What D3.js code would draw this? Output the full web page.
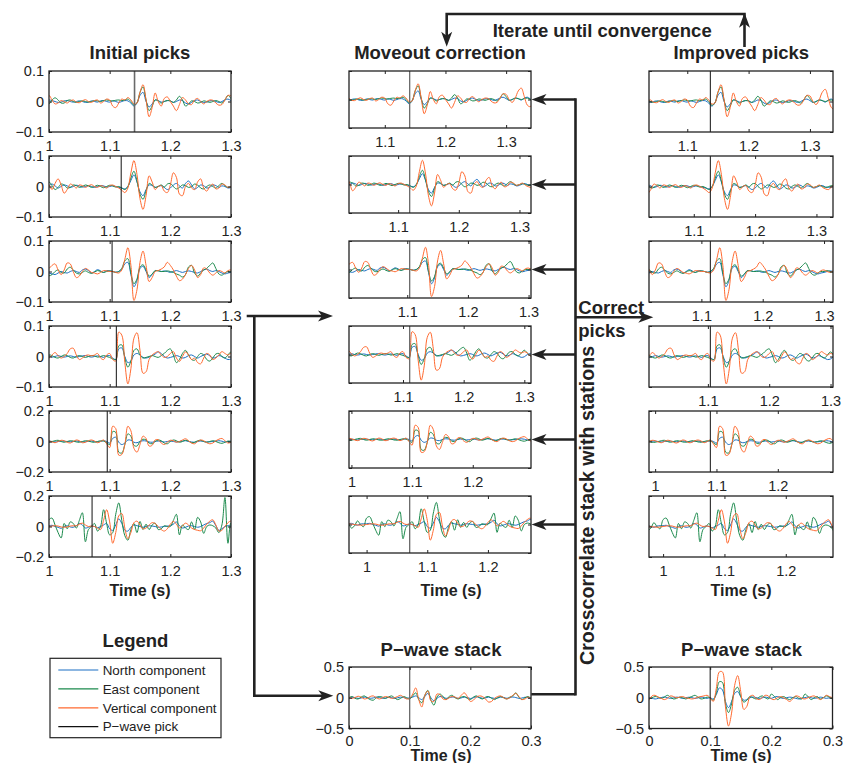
<!DOCTYPE html>
<html><head><meta charset="utf-8">
<script src="https://cdn.jsdelivr.net/npm/d3@7"></script>
<style>body{margin:0;background:#fff}svg{display:block}</style>
</head><body><svg id="chart" width="843" height="763"></svg>
<script>
// ---------------- DATA (amplitudes in units of 0.001) ----------------
const traceStart = 0.96, traceStep = 0.005;   // station traces sampled from 0.96 s
const stackStart = 0.0, stackStep = 0.005;    // stacks sampled from 0 s
const initialPicks  = [1.141, 1.119, 1.104, 1.111, 1.096, 1.071];
const improvedPicks = [1.1376, 1.127, 1.1146, 1.104, 1.090, 1.077];
const ampLimits = [0.1, 0.1, 0.1, 0.1, 0.2, 0.2];
const timeTicks = [1, 1.1, 1.2, 1.3];
const stackTicks = [0, 0.1, 0.2, 0.3];
const stackLimit = 0.5;
const stackPick = 0.1;
const legendLabels = ["North component", "East component", "Vertical component", "P\u2212wave pick"];

const p1N = [0,2,3,0,-2,0,3,2, 5,3,0,-3,-2,2,3,0,-2,0, 2,0,-3,-2,2,0,-2,2,3,0, -2,2,0,-3,0,3,2,-5,-15,-5, 20,30,0,-18,-8,5,3,-2,0,3, 2,-3,0,5,3,-5,-8,-3,3,5, 0,-3,-2,2,3,0,-3,0,5,8, 3,-3,0,5,3,-2,5,8,2,0, 0];
const p1E = [0,-3,-5,0,5,3,-2,-5, -8,5,12,5,-5,-5,3,5,0,-3, 0,2,0,-2,0,3,2,0,3,5, 3,2,4,5,3,5,8,0,-12,-5, 30,48,5,-30,-15,5,2,-5,0,3, 2,-3,5,17,5,-15,-8,2,0,-5, -3,2,0,-3,0,3,0,-5,5,20, 10,-3,0,5,3,0,3,5,0,-3, 0];
const p1Z = [0,5,10,8,0,-5,5,15, 20,5,-8,-5,3,0,-5,2,5,-2, -4,2,6,0,-3,3,5,-5,0,8, 5,-15,-20,-5,8,5,13,5,-8,-5, 30,55,5,-50,-20,28,0,-15,10,15, 0,-15,-30,-10,13,5,-8,-10,5,10, 0,-8,0,5,4,-5,-12,-10,5,20, 18,0,-10,5,30,40,10,-20,-25,-5, 0];

const p2N = [0,2,-2,0,3,0,-3,0, 3,8,2,-5,0,5,2,-3,0,4, 2,-2,0,3,0,-3,0,3,2,-2, 0,2,0,-3,-5,-8,0,20,38,15, -18,-30,-10,5,3,-3,0,3,-3,-10, -5,5,10,2,-5,10,18,5,-8,-3, 5,3,-5,-3,5,3,-3,2,0,-5, -3,2,3,-2,-3,0,2,0,-2,0, 0];
const p2E = [0,3,0,-3,0,5,8,10, 15,3,-10,-3,8,5,-5,-3,5,3, -3,0,5,2,-3,0,4,0,-4,0, 4,2,-2,0,-5,-10,0,28,50,18, -25,-42,-15,10,5,-3,0,5,-2,8, 10,0,-8,-3,5,3,-3,0,8,5, -5,-8,0,5,0,-5,3,10,3,-3, 0,3,0,-3,0,3,2,-2,0,2, 0];
const p2Z = [0,3,5,0,-5,-3,5,10, 5,-10,10,25,5,-22,-10,8,3,-5, 5,3,-3,2,6,0,-3,3,0,-5, 3,5,0,-5,-12,-20,-5,45,85,40, -40,-75,-30,35,15,-10,0,3,-15,-20, 5,45,30,-25,-30,0,10,-5,-10,15, 25,-5,-15,0,8,-8,-5,8,5,-3, 0,5,-3,-8,-10,0,5,0,-3,0, 0];

const p3N = [0,2,0,-2,0,3,0,-3, -5,-8,-10,-5,0,-3,-5,0,3,0, -3,5,8,3,-5,0,6,2,-3,3, 2,0,-2,0,8,25,30,-10,-50,-30, 10,17,0,-20,-10,2,3,0,2,0, -3,0,3,0,-3,0,2,0,-3,-5, 0,5,8,3,0,3,0,-5,-8,-5, -3,0,2,0,-2,0,2,0,-2,0, 0];
const p3E = [0,-2,0,3,0,-3,-5,-10, -14,-10,0,5,-3,-5,8,14,5,-5, -8,-3,2,-3,-6,-2,3,0,-3,0, 2,0,-3,0,10,35,42,-5,-40,-25, 15,22,5,-15,-8,3,2,0,0,2, 0,-3,-8,-12,-18,-10,15,20,-5,-15, -5,5,10,20,28,10,-8,-12,-5,0, 0,3,0,-3,0,2,0,-2,0,0, 0];
const p3Z = [0,3,5,3,0,-3,0,5, 10,20,25,5,-10,5,28,25,0,-20, -15,0,10,5,-3,-5,-8,-3,3,2, 0,0,-3,-5,5,40,78,20,-95,-60, 30,67,20,-33,-20,0,3,8,15,30, 20,5,-15,-30,-25,-10,10,20,5,-20, -10,12,8,-5,-12,-5,3,0,-5,3, 5,0,-3,2,0,-2,0,2,0,0, 0];

const p4N = [0,2,0,-2,0,2,0,-2, 2,-2,0,3,0,-2,0,2,0,-2, 0,2,3,0,-2,0,2,0,-3,2, 3,-5,-10,25,28,0,-20,-15,5,10, 5,-3,-5,-2,3,8,15,10,0,-5, -3,0,3,0,-5,-3,3,5,0,-5, 0,5,8,2,-5,-3,3,0,-5,-10, -8,0,3,2,0,-2,0,2,0,0, 0];
const p4E = [0,3,0,-3,0,3,0,-3, 5,3,-3,-5,0,5,3,-3,-5,0, 3,0,-3,0,3,2,-2,0,3,0, -3,-8,-10,35,38,-5,-35,-15,20,25, 5,-5,-3,0,3,0,-3,3,10,20, 25,5,-20,-10,10,20,5,-10,-12,0, 10,5,-10,-15,-5,8,10,0,-5,5, 15,5,-5,0,3,0,-2,0,2,0, 0];
const p4Z = [0,3,0,-5,-3,3,5,0, -5,5,13,3,-5,0,10,25,27,5, -10,-5,3,5,2,5,10,-5,-10,5, 10,-10,-15,80,70,-20,-90,-40,60,78, 20,-55,-50,-10,5,12,16,5,-3,0, 10,16,-5,-16,0,15,5,-10,-5,-20, -24,-5,10,5,-10,-5,5,16,10,5, 10,5,-5,0,5,0,-3,0,2,0, 0];

const p5N = [0,2,3,0,-2,0,3,2, 3,0,-3,0,3,2,0,-2,0,3, 0,-3,-2,2,3,0,-3,0,5,0, -10,20,28,-5,-20,-10,10,8,-5,-8, 0,5,3,-3,-5,0,3,0,-3,0, 3,0,-3,0,3,5,0,-3,-5,0, 3,0,-3,-2,0,3,5,2,-3,0, 2,0,-2,0,2,0,-2,0,0,0, 0];
const p5E = [0,-3,-5,0,5,8,3,-5, -5,0,5,8,0,-5,0,5,3,-3, -5,0,5,3,-3,-5,0,5,3,-8, -20,65,60,-70,-75,-20,50,35,-25,-30, 0,15,10,-10,-15,0,10,5,-10,-15, 0,10,5,-5,0,8,3,-8,-5,5, 8,0,-5,0,5,0,-8,-12,-5,3, 0,3,0,-3,0,2,0,-2,0,0, 0];
const p5Z = [0,5,8,3,-5,-8,0,8, 5,-3,-8,0,8,5,-5,-10,0,10, 5,-8,-5,5,10,3,-8,0,10,-15, -40,100,85,-90,-85,-20,100,70,-45,-70, -20,35,20,-30,-25,10,12,-10,-20,-5, 8,5,-5,0,10,18,5,-10,-15,0, 10,5,-8,-15,-10,5,15,20,5,-10, -5,5,0,-5,0,3,0,-3,0,0, 0];

const p6N = [0,-5,5,8,0,-5,3,5, 5,8,0,-5,-12,0,5,-3,-5,5, 20,10,-10,-5,3,0,-8,0,10,20, -15,-25,10,50,20,-25,-30,-5,10,5, 0,-5,0,5,3,0,-5,-3,0,3, 5,15,30,5,-10,-5,3,5,0,-5, 0,10,20,25,35,5,-25,-15,0,5, 3,0,-3,0,2,0,0,0,0,0, 0];
const p6E = [0,0,5,-25,-10,25,0,-15, 45,55,10,-40,-75,20,-15,30,20,-10, 40,90,-100,-20,0,20,-30,0,110,20, -55,-40,80,155,40,-60,-90,-20,20,-40, 33,-20,15,-20,10,22,-20,-15,5,0, 0,40,80,-55,10,-10,-20,30,-20,60, 30,-45,0,10,5,-10,-40,10,190,-110, 25,0,-5,0,0,0,0,0,0,0, 0];
const p6Z = [0,3,5,3,0,-3,-5,-3, 0,3,5,3,-3,-5,-3,3,5,5, 15,22,10,0,3,0,-10,-20,40,110, 30,-110,-40,70,85,-10,-80,-40,25,35, 10,-15,-10,10,25,20,0,-20,-30,-15, 15,33,15,-10,5,22,10,-10,-20,-25, -28,-10,15,35,44,10,-30,-25,0,25, 35,10,0,0,0,0,0,0,0,0, 0];

const stackMidN = [0,8,3,-10,-5,10,5,-8,-3,12, 5,-10,-5,8,3,-12,0,10,5,-8, 0,10,30,0,-30,20,70,0,-50,-10, 20,10,-10,0,12,5,-10,-3,10,3, -12,0,15,5,-8,-3,10,0,-10,-5, 10,5,-8,0,12,3,-10,-5,8,0, -10];
const stackMidE = [0,20,-10,-20,10,30,0,-30,-40,0, 20,10,-10,10,30,0,-30,-10,20,0, -20,30,80,-30,-80,40,120,-40,-120,10, 60,20,-30,20,40,0,-20,10,20,-10, -30,10,30,0,-20,10,20,-10,-30,0, 20,0,-20,10,30,80,10,-30,0,20, -10];
const stackMidZ = [10,-10,5,25,10,-20,-10,20,30,0, -20,0,20,10,-10,0,20,40,10,-20, -10,60,160,-30,-150,40,110,-50,-60,60, 50,-20,-30,0,20,10,-10,40,80,20, -60,-40,10,30,20,-20,-70,-60,-10,20, 30,0,-20,0,40,70,20,-30,-20,10, -20];

const stackRightN = [0,-8,-20,-10,3,12,2,-10,-2,10, 3,-12,0,8,2,-10,-3,12,0,-10, 0,-20,50,160,130,-60,-160,-60,70,100, 20,-40,-30,0,12,3,-10,-2,10,0, -10,10,20,2,-12,0,10,3,-10,-20, -8,2,12,0,-10,-3,10,2,-10,0, 0];
const stackRightE = [-20,0,20,10,-10,10,40,10,-20,-10, 10,0,-20,0,20,40,10,-20,-10,10, 0,-40,80,260,250,-100,-240,-100,120,170, 20,-70,-40,20,0,-20,10,30,0,-20, 60,20,-30,0,20,-10,-30,0,20,-10, -20,60,20,-30,0,20,-20,0,30,10, -20];
const stackRightZ = [-40,30,40,10,-10,-30,-10,30,20,0, 10,20,0,-10,-20,-10,10,20,30,40, 0,-60,150,420,420,-150,-460,-250,200,360, 100,-190,-140,20,40,-10,-30,0,40,30, -20,-30,0,20,0,-30,-60,-20,30,20, -10,-20,0,20,30,0,-30,0,40,20, 0];

// ---------------- DRAWING ----------------
const FONT = '"Liberation Sans", Arial, Helvetica, sans-serif';
const COL = {N: "#1a6fc4", E: "#1b8a4c", Z: "#ff6a30", pick: "#111"};
const INK = "#222";
const fmt = d3.format("~g");
const svg = d3.select("#chart");

const stations = [
  [p1N, p1E, p1Z], [p2N, p2E, p2Z], [p3N, p3E, p3Z],
  [p4N, p4E, p4Z], [p5N, p5E, p5Z], [p6N, p6E, p6Z]
];
const compColors = [COL.N, COL.E, COL.Z];

let clipCount = 0;
function styleAxis(sel, size) {
  sel.select(".domain").remove();
  sel.selectAll("line").attr("stroke", INK).attr("stroke-width", 1);
  sel.selectAll("text").attr("fill", INK).style("font-family", FONT).style("font-size", size + "px");
}
function drawPanel(o) {
  const g = svg.append("g").attr("transform", `translate(${o.x},${o.y})`);
  const sx = d3.scaleLinear().domain(o.domain).range([0, o.w]);
  const sy = d3.scaleLinear().domain([-o.yMax, o.yMax]).range([o.h, 0]);
  const cid = "clip" + (clipCount++);
  g.append("clipPath").attr("id", cid).append("rect").attr("width", o.w).attr("height", o.h);
  const plot = g.append("g").attr("clip-path", `url(#${cid})`);
  const line = d3.line()
    .x((d, i) => sx(o.t0 + i * o.dt))
    .y(d => sy(d * 0.001))
    .curve(d3.curveCatmullRom.alpha(0.5));
  o.series.forEach((vals, k) => {
    plot.append("path").datum(vals).attr("d", line)
      .attr("fill", "none").attr("stroke", compColors[k]).attr("stroke-width", 1)
      .attr("stroke-linejoin", "round");
  });
  plot.append("line")
    .attr("x1", sx(o.pick)).attr("x2", sx(o.pick)).attr("y1", 0).attr("y2", o.h)
    .attr("stroke", o.pickColor).attr("stroke-width", o.pickWidth);
  const xt = o.xTicks.filter(t => t >= o.domain[0] - 1e-6 && t <= o.domain[1] + 1e-6);
  const yt = [-o.yMax, 0, o.yMax];
  g.append("g").attr("transform", `translate(0,${o.h})`)
    .call(d3.axisBottom(sx).tickValues(xt).tickFormat(fmt).tickSize(-3).tickPadding(o.xPad))
    .call(styleAxis, 14.5);
  g.append("g").call(d3.axisTop(sx).tickValues(xt).tickFormat(() => "").tickSize(-3)).call(styleAxis, 14.5);
  g.append("g").call(d3.axisLeft(sy).tickValues(yt).tickFormat(o.yLabels ? fmt : () => "").tickSize(-3).tickPadding(5))
    .call(styleAxis, 14.5);
  g.append("g").attr("transform", `translate(${o.w},0)`)
    .call(d3.axisRight(sy).tickValues(yt).tickFormat(() => "").tickSize(-3)).call(styleAxis, 14.5);
  g.append("rect").attr("width", o.w).attr("height", o.h)
    .attr("fill", "none").attr("stroke", INK).attr("stroke-width", 1.3);
}

const rowTop = i => 71 + 85 * i;
stations.forEach((s, i) => {
  drawPanel({x: 49, y: rowTop(i), w: 182, h: 61, domain: [1, 1.3], yMax: ampLimits[i],
    series: s, t0: traceStart, dt: traceStep, pick: initialPicks[i],
    pickColor: i === 0 ? "#6a6a6a" : COL.pick, pickWidth: i === 0 ? 1.6 : 1,
    xTicks: timeTicks, yLabels: true, xPad: 9});
  drawPanel({x: 349, y: rowTop(i), w: 182, h: 57,
    domain: [initialPicks[i] - 0.1, initialPicks[i] + 0.2], yMax: ampLimits[i],
    series: s, t0: traceStart, dt: traceStep, pick: initialPicks[i],
    pickColor: "#6a6a6a", pickWidth: 1.3, xTicks: timeTicks, yLabels: false, xPad: 9});
  drawPanel({x: 649, y: rowTop(i), w: 184, h: 61,
    domain: [improvedPicks[i] - 0.1, improvedPicks[i] + 0.2], yMax: ampLimits[i],
    series: s, t0: traceStart, dt: traceStep, pick: improvedPicks[i],
    pickColor: COL.pick, pickWidth: 1, xTicks: timeTicks, yLabels: false, xPad: 9});
});
drawPanel({x: 349, y: 667, w: 182, h: 61.5, domain: [0, 0.3], yMax: stackLimit,
  series: [stackMidN, stackMidE, stackMidZ], t0: stackStart, dt: stackStep, pick: stackPick,
  pickColor: "#6a6a6a", pickWidth: 1.3, xTicks: stackTicks, yLabels: true, xPad: 7});
drawPanel({x: 649, y: 667, w: 183.5, h: 61.5, domain: [0, 0.3], yMax: stackLimit,
  series: [stackRightN, stackRightE, stackRightZ], t0: stackStart, dt: stackStep, pick: stackPick,
  pickColor: COL.pick, pickWidth: 1, xTicks: stackTicks, yLabels: true, xPad: 7});

// ---------------- TEXT ----------------
function txt(x, y, s, size, anchor, bold) {
  return svg.append("text").attr("x", x).attr("y", y).text(s)
    .attr("text-anchor", anchor || "middle").attr("fill", INK)
    .style("font-family", FONT).style("font-size", size + "px")
    .style("font-weight", bold === false ? "normal" : "bold");
}
txt(140, 59, "Initial picks", 18.5);
txt(440, 58.5, "Moveout correction", 18.5);
txt(741.3, 59, "Improved picks", 18.5);
txt(492.7, 37.3, "Iterate until convergence", 18.5, "start");
txt(578.3, 314.3, "Correct", 18.5, "start");
txt(578.3, 336.5, "picks", 18.5, "start");
svg.append("text").attr("transform", "translate(594.3,665) rotate(-90)")
  .text("Crosscorrelate stack with stations").attr("fill", INK)
  .style("font-family", FONT).style("font-size", "19.6px").style("font-weight", "bold");
[[140, 596], [451, 596], [741, 596], [441, 761], [741, 761]].forEach(p => txt(p[0], p[1], "Time (s)", 16));
txt(441, 656, "P\u2212wave stack", 18.5);
txt(741.5, 656, "P\u2212wave stack", 18.5);

// ---------------- ARROWS ----------------
const AW = 2.6;
function seg(d) {
  svg.append("path").attr("d", d).attr("fill", "none").attr("stroke", INK)
    .attr("stroke-width", AW).attr("stroke-linejoin", "miter");
}
function head(x, y, angle) {
  svg.append("path").attr("d", "M0,0L-15,-5.5L-11,0L-15,5.5Z")
    .attr("transform", `translate(${x},${y}) rotate(${angle})`).attr("fill", INK);
}
seg("M744.5,47 V14 H446.7 V37");
head(744.5, 12.8, -90);
head(446.7, 46.7, 90);
seg("M575.5,98.2 V695.6");
seg("M531.3,694.3 H575.5");
stations.forEach((s, i) => {
  const yc = rowTop(i) + 28.5;
  seg(`M575.5,${yc} H542`);
  head(531.5, yc, 180);
});
seg("M575.5,317.3 H643");
head(653.3, 317.3, 0);
seg("M246.7,316 H323");
head(333, 316, 0);
seg("M254.3,316 V695.7 H323");
head(333.3, 695.7, 0);

// ---------------- LEGEND ----------------
txt(135.5, 647, "Legend", 18.5);
svg.append("rect").attr("x", 50).attr("y", 658.3).attr("width", 171).attr("height", 79.4)
  .attr("fill", "#fff").attr("stroke", INK).attr("stroke-width", 1.2);
const legendColors = [COL.N, COL.E, COL.Z, COL.pick];
const legendY = d3.scalePoint().domain(legendLabels).range([670, 726.7]);
legendLabels.forEach((lab, i) => {
  const y = legendY(lab);
  svg.append("line").attr("x1", 58.3).attr("x2", 98.3).attr("y1", y).attr("y2", y)
    .attr("stroke", legendColors[i]).attr("stroke-width", 1.2);
  txt(102.7, y + 4.7, lab, 13.4, "start", false);
});
</script></body></html>
